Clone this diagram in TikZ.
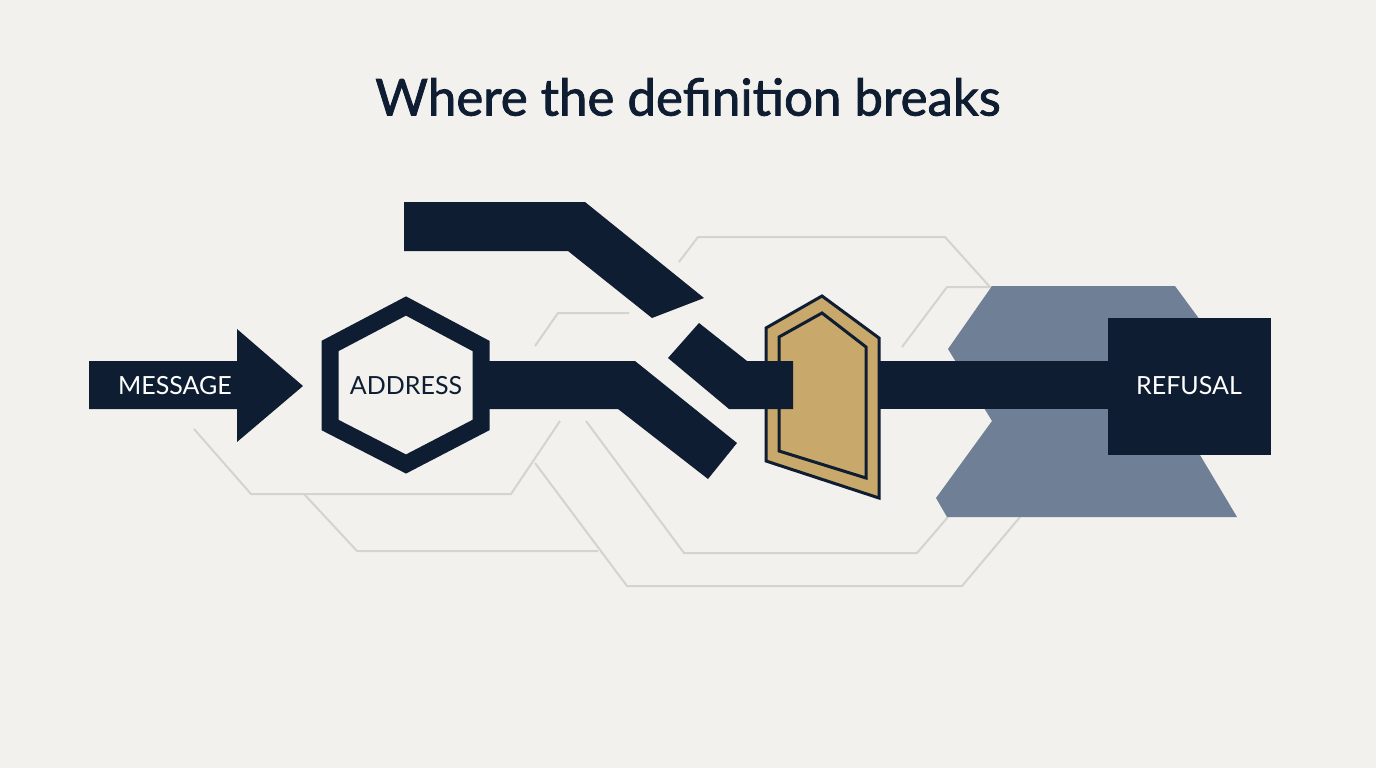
\documentclass[tikz,border=0pt]{standalone}
\usepackage{fontspec}
\setmainfont{Lato}
\newfontfamily\headfont[BoldFont=Lato, BoldFeatures={FakeBold=1.6}]{Lato}
\usepackage{xcolor}
\usepackage{tikz}
\usetikzlibrary{calc}
\definecolor{navy}{HTML}{0E1D31}
\definecolor{paper}{HTML}{F2F1ED}
\definecolor{gold}{HTML}{C8A86B}
\definecolor{slate}{HTML}{6F8096}
\definecolor{wire}{HTML}{D3D3D0}

\begin{document}
\begin{tikzpicture}[x=1pt, y=-1pt]
	\newcommand{\bartop}{361}
	\newcommand{\barbot}{409}
	\tikzstyle{wire line} =[draw=wire, line width=2pt, line join=miter]
	\tikzstyle{tag} =[text=white, font=\fontsize{25}{25}\selectfont, inner sep=0]
	\fill[paper] (0,0) rectangle (1376,768);
	\useasboundingbox (0,0) rectangle (1376,768);
	\node[text=navy, font=\headfont\bfseries\fontsize{51}{51}\selectfont, inner sep=0] (title) at (688,97) {Where the definition breaks};
	% thin wiring behind everything
	\draw[wire line] (679,262) -- (698,237) -- (945,237) -- (990,287);
	\draw[wire line] (902,347) -- (947,287) -- (992,287);
	\draw[wire line] (535,346) -- (558,313) -- (629,313);
	\draw[wire line] (194,429) -- (251,494) -- (511,494) -- (560,421);
	\draw[wire line] (304,494) -- (357,551) -- (598,551);
	\draw[wire line] (586,421) -- (684,553) -- (917,553) -- (948,517);
	\draw[wire line] (535,463) -- (627,586) -- (962,586) -- (1020,517);
	% slate backdrop
	\fill[slate] (992,286) -- (1175,286) -- (1200,320) -- (1200,455) -- (1237,517)
		-- (947,517) -- (936,498) -- (992,421) -- (948,349) -- cycle;
	% shield
	\draw[fill=gold, draw=navy, line width=3pt] (822,296) -- (879,338) -- (879,498) -- (766,461) -- (766,328) -- cycle;
	\draw[navy, line width=3pt] (822,313) -- (866,347) -- (866,478) -- (779,451) -- (779,337) -- cycle;
	% bars
	\fill[navy] (404,202) -- (585,202) -- (704,298) -- (652,318) -- (568,251) -- (404,251) -- cycle;
	\fill[navy] (481,\bartop) -- (635,\bartop) -- (737,443) -- (708,479) -- (618,\barbot) -- (481,\barbot) -- cycle;
	\fill[navy] (699,323) -- (747,\bartop) -- (793,\bartop) -- (793,\barbot) -- (729,\barbot) -- (668,358) -- cycle;
	\fill[navy] (879,\bartop) rectangle (1108,\barbot);
	% message arrow
	\fill[navy] (89,\bartop) -- (237,\bartop) -- (237,329) -- (303,386) -- (237,442) -- (237,\barbot) -- (89,\barbot) -- cycle;
	\node[tag] (message) at (175,386) {MESSAGE};
	% address hexagon
	\draw[navy, fill=paper, line width=17pt, line join=miter] (406,306) -- (481,346) -- (481,425) -- (406,464) -- (330,425) -- (330,346) -- cycle;
	\node[tag, text=navy] (address) at (406,386) {ADDRESS};
	% refusal box
	\fill[navy] (1108,318) rectangle (1271,455);
	\node[tag] (refusal) at (1189,386) {REFUSAL};
\end{tikzpicture}
\end{document}
